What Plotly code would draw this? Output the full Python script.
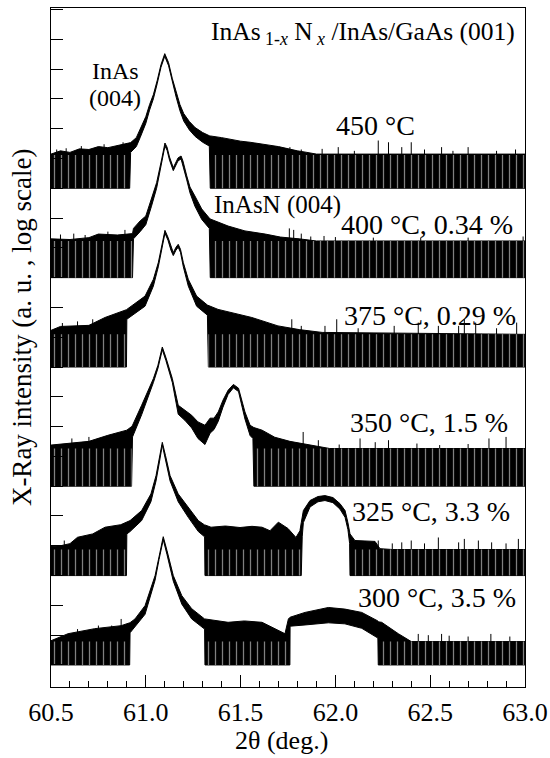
import plotly.graph_objects as go

# ---------------- data (2theta in deg, intensity in counts) ----------------
# per-sample vertical offset factors (log stacking)
offsets = {"450": 1e16, "400": 1e13, "375": 1e10, "350": 1e6, "325": 1e3, "300": 1e0}
floors = {"450": 13, "400": 17, "375": 12.5, "350": 18.4, "325": 7.5, "300": 6.1}

tt_450 = [60.50, 60.55, 60.60, 60.65, 60.70, 60.75, 60.80, 60.85, 60.915, 60.92, 60.95, 60.97, 61.00, 61.02,
          61.04, 61.06, 61.08, 61.10, 61.12, 61.14, 61.16, 61.18, 61.20, 61.23, 61.26, 61.30, 61.335, 61.34,
          61.40, 61.45, 61.50, 61.55, 61.60, 61.65, 61.70, 61.75, 61.80, 61.85, 61.90, 63.00]
hi_450 = [14, 18, 16, 21, 20, 25, 23, 27, 32, 34, 50, 100, 254, 645,
          1390, 4120, 14100, 33000, 16500, 4800, 1620, 645, 320, 173, 109, 74, 58, 57,
          50, 43, 38, 35, 32, 28, 25, 21, 18, 16, 14, 14]
lo_450 = [1, 1, 1, 1, 1, 1, 1, 1, 1, 16, 25, 50, 150, 420,
          1000, 3200, 11500, 27000, 13000, 3700, 1150, 400, 180, 90, 55, 35, 26, 1,
          1, 1, 1, 1, 1, 1, 1, 1, 1, 1, 1, 1]
band_450 = [(60.50, 60.915), (61.34, 63.00)]
spk_450 = [(60.53, 20), (60.58, 22), (60.66, 26), (60.78, 30), (60.88, 35), (61.76, 24), (61.82, 20),
           (61.93, 21), (62.015, 24), (62.10, 18), (62.226, 40), (62.28, 35), (62.35, 24), (62.40, 35),
           (62.47, 20), (62.56, 24), (62.62, 18), (62.70, 24), (62.85, 18), (62.95, 20)]

tt_400 = [60.50, 60.60, 60.70, 60.75, 60.85, 60.93, 60.935, 60.97, 61.00, 61.03, 61.057, 61.084, 61.101,
          61.112, 61.125, 61.145, 61.159, 61.17, 61.186, 61.196, 61.216, 61.233, 61.259, 61.295, 61.335,
          61.34, 61.434, 61.523, 61.63, 61.71, 61.81, 61.90, 63.00]
hi_400 = [20, 19, 22, 29, 27, 30, 45, 80, 117, 437, 1540, 9600, 33000,
          24000, 11200, 4900, 7060, 10400, 12100, 8200, 2600, 1100, 550, 202, 100,
          93, 54, 37, 29, 23, 20, 17, 17]
lo_400 = [1, 1, 1, 1, 1, 1, 20, 35, 60, 250, 1000, 7500, 26000,
          19000, 8800, 3900, 5600, 8300, 9600, 6500, 1900, 700, 250, 90, 45,
          1, 1, 1, 1, 1, 1, 1, 1]
band_400 = [(60.50, 60.93), (61.34, 63.00)]
spk_400 = [(60.55, 28), (60.62, 30), (60.68, 27), (60.80, 35), (60.89, 40), (61.757, 45), (61.78, 40),
           (61.82, 30), (61.87, 24), (61.94, 25), (62.00, 23), (62.20, 22), (62.45, 22), (62.70, 22),
           (62.99, 24)]

tt_375 = [60.50, 60.55, 60.70, 60.785, 60.898, 60.90, 60.996, 61.04, 61.066, 61.085, 61.101, 61.117, 61.133,
          61.145, 61.159, 61.171, 61.183, 61.198, 61.224, 61.268, 61.325, 61.33, 61.381, 61.559, 61.697,
          61.81, 61.93, 63.00]
hi_375 = [17, 23, 25, 46, 84, 86, 240, 880, 3200, 13100, 38600, 22700, 10400,
          6900, 10400, 13100, 8900, 3200, 880, 240, 120, 117, 86, 46, 24,
          18, 14.5, 12.5]
lo_375 = [1, 1, 1, 1, 1, 40, 110, 520, 2300, 10500, 31000, 18000, 8200,
          5500, 8300, 10500, 7000, 2300, 520, 110, 55, 1, 1, 1, 1,
          1, 1, 1]
band_375 = [(60.50, 60.898), (61.33, 63.00)]
spk_375 = [(60.56, 30), (60.64, 34), (60.72, 40), (61.77, 40), (61.82, 24), (61.945, 24), (62.007, 40),
           (62.12, 20), (62.31, 24), (62.437, 31), (62.543, 24), (62.65, 24), (62.68, 40), (62.74, 31),
           (62.85, 20), (62.956, 31)]

tt_350 = [60.50, 60.60, 60.70, 60.80, 60.90, 60.925, 60.93, 60.978, 61.04, 61.064, 61.087, 61.106, 61.14,
          61.171, 61.207, 61.242, 61.275, 61.312, 61.339, 61.36, 61.382, 61.407, 61.434, 61.462, 61.489,
          61.523, 61.55, 61.565, 61.57, 61.613, 61.68, 61.76, 61.866, 61.97, 63.00]
hi_350 = [24, 28, 32, 51, 76, 100, 111, 520, 4100, 11500, 47000, 21000, 4100,
          520, 356, 240, 144, 111, 192, 192, 310, 770, 1660, 2600, 1950,
          310, 111, 95, 93, 76, 44, 32, 24, 18.4, 18.4]
lo_350 = [1, 1, 1, 1, 1, 1, 45, 250, 3000, 9000, 38000, 16500, 3000,
          260, 160, 90, 40, 25, 60, 80, 150, 450, 1200, 2000, 1500,
          180, 50, 40, 1, 1, 1, 1, 1, 1, 1]
band_350 = [(60.50, 60.925), (61.567, 63.00)]
spk_350 = [(60.61, 40), (60.70, 45), (60.75, 40), (61.83, 66), (61.91, 35), (62.02, 25), (62.13, 40),
           (62.21, 30), (62.28, 35), (62.43, 27), (62.55, 24), (62.70, 26), (62.81, 40), (62.90, 45)]

tt_325 = [60.50, 60.55, 60.60, 60.64, 60.72, 60.785, 60.868, 60.898, 60.90, 60.917, 60.978, 61.027, 61.054,
          61.072, 61.087, 61.104, 61.128, 61.171, 61.224, 61.277, 61.31, 61.312, 61.344, 61.42, 61.497,
          61.56, 61.613, 61.655, 61.699, 61.75, 61.792, 61.813, 61.82, 61.825, 61.831, 61.866, 61.908,
          61.945, 61.987, 62.024, 62.051, 62.066, 62.075, 62.077, 62.103, 62.209, 62.235, 62.30, 63.00]
hi_325 = [9.4, 10, 11.8, 19.3, 25, 42, 51, 60, 60, 70, 152, 550, 2270,
          8500, 29700, 10600, 2270, 550, 195, 70, 50, 50, 42, 46, 41,
          45, 42, 32, 62, 38, 19, 32, 60, 100, 152, 330, 450,
          483, 415, 260, 152, 60, 30, 25, 15, 14, 8, 7.5, 7.5]
lo_325 = [1, 1, 1, 1, 1, 1, 1, 1, 25, 30, 70, 300, 1500,
          6500, 24000, 8000, 1500, 300, 90, 30, 20, 1, 1, 1, 1,
          1, 1, 1, 1, 1, 1, 1, 1, 20, 60, 200, 300,
          330, 280, 170, 90, 35, 12, 1, 1, 1, 1, 1, 1]
band_325 = [(60.50, 60.898), (61.312, 61.82), (62.077, 63.00)]
spk_325 = [(60.57, 15), (60.61, 13), (60.70, 22), (62.226, 15), (62.30, 12), (62.35, 13), (62.40, 15),
           (62.47, 12), (62.543, 19), (62.65, 13), (62.68, 17), (62.754, 15), (62.824, 13), (62.90, 12),
           (62.965, 17)]

tt_300 = [60.50, 60.59, 60.73, 60.87, 60.915, 60.917, 60.943, 60.996, 61.049, 61.07, 61.092, 61.112, 61.145,
          61.19, 61.242, 61.31, 61.312, 61.434, 61.52, 61.613, 61.699, 61.734, 61.752, 61.76, 61.761,
          61.84, 61.963, 62.05, 62.139, 62.224, 62.226, 62.244, 62.332, 62.40, 63.00]
hi_300 = [6.5, 11.2, 16.5, 20.8, 26, 26.3, 35, 98, 1000, 4660, 20200, 6840, 1000,
          211, 77.6, 35, 35, 27, 30, 27, 14.1, 11.2, 35, 40, 40,
          58, 85, 75, 58, 30, 28, 27, 11.2, 6.1, 6.1]
lo_300 = [1, 1, 1, 1, 1, 12, 18, 50, 700, 3500, 16000, 5000, 650,
          110, 35, 16, 1, 1, 1, 1, 1, 1, 1, 1, 20,
          22, 26, 24, 17, 8, 1, 1, 1, 1, 1]
band_300 = [(60.50, 60.915), (61.312, 61.761), (62.226, 63.00)]
spk_300 = [(60.64, 16), (60.75, 21), (60.82, 21), (60.87, 35), (62.437, 11), (62.49, 10), (62.56, 11),
           (62.60, 9.6), (62.70, 9), (62.82, 11), (62.92, 9)]

samples = {
    "450": (tt_450, hi_450, lo_450, band_450, spk_450),
    "400": (tt_400, hi_400, lo_400, band_400, spk_400),
    "375": (tt_375, hi_375, lo_375, band_375, spk_375),
    "350": (tt_350, hi_350, lo_350, band_350, spk_350),
    "325": (tt_325, hi_325, lo_325, band_325, spk_325),
    "300": (tt_300, hi_300, lo_300, band_300, spk_300),
}

xticks = [60.5, 61.0, 61.5, 62.0, 62.5, 63.0]
xticktext = ["60.5", "61.0", "61.5", "62.0", "62.5", "63.0"]

FONT = "Liberation Serif, Times New Roman, serif"

fig = go.Figure()
for key, (tt, hi, lo, bands, spk) in samples.items():
    off = offsets[key]
    px = list(tt) + list(tt)[::-1]
    py = [v * off for v in hi] + [v * off for v in lo][::-1]
    fig.add_trace(go.Scatter(x=px, y=py, fill="toself", fillcolor="black", mode="lines",
                             line=dict(color="black", width=1), hoverinfo="skip", showlegend=False))
    sx, sy = [], []
    for t, c in spk:
        sx += [t, t, None]
        sy += [floors[key] * off, c * off, None]
    fig.add_trace(go.Scatter(x=sx, y=sy, mode="lines", line=dict(color="black", width=1),
                             hoverinfo="skip", showlegend=False))
    for a, b in bands:
        fig.add_trace(go.Scatter(x=[a, a, b, b, a],
                                 y=[1 * off, floors[key] * off, floors[key] * off, 1 * off, 1 * off],
                                 fill="toself", mode="none", fillcolor="rgba(0,0,0,0)",
                                 fillpattern=dict(shape="|", fgcolor="white", size=7, solidity=0.18),
                                 hoverinfo="skip", showlegend=False))

labels = [
    ("450 °C", 62.21, 18.12, "center"),
    ("400 °C, 0.34 %", 62.947, 14.80, "right"),
    ("375 °C, 0.29 %", 62.965, 11.74, "right"),
    ("350 °C, 1.5 %", 62.921, 8.15, "right"),
    ("325 °C, 3.3 %", 62.93, 5.14, "right"),
    ("300 °C, 3.5 %", 62.965, 2.25, "right"),
]
ann = []
for txt, x, y, anc in labels:
    ann.append(dict(text=txt, x=x, y=y, xref="x", yref="y", xanchor=anc, yanchor="middle",
                    showarrow=False, font=dict(family=FONT, size=28, color="black")))
ann.append(dict(text="InAsN (004)", x=61.348, y=15.44, xref="x", yref="y", xanchor="left", yanchor="middle",
                showarrow=False, font=dict(family=FONT, size=25, color="black")))
ann.append(dict(text="InAs", x=60.838, y=19.92, xref="x", yref="y", xanchor="center",
                yanchor="middle", showarrow=False, font=dict(family=FONT, size=24, color="black")))
ann.append(dict(text="(004)", x=60.838, y=19.02, xref="x", yref="y", xanchor="center",
                yanchor="middle", showarrow=False, font=dict(family=FONT, size=24, color="black")))
ann.append(dict(text="InAs<sub> 1-<i>x</i></sub> N<sub> <i>x</i></sub> /InAs/GaAs (001)", x=62.956, y=21.21,
                xref="x", yref="y", xanchor="right", yanchor="middle", showarrow=False,
                font=dict(family=FONT, size=25.5, color="black")))
# axis titles
ann.append(dict(text="X-Ray intensity (a. u. , log scale)", x=-0.0612, y=0.530, xref="paper", yref="paper",
                xanchor="center", yanchor="middle", textangle=-90, showarrow=False,
                font=dict(family=FONT, size=27, color="black")))
ann.append(dict(text="2θ (deg.)", x=0.487, y=-0.1031, xref="paper", yref="paper",
                xanchor="center", yanchor="bottom", showarrow=False,
                font=dict(family=FONT, size=26, color="black")))

fig.update_layout(
    width=550, height=758,
    margin=dict(l=51, r=25, t=8, b=71, autoexpand=False),
    paper_bgcolor="white", plot_bgcolor="white",
    font=dict(family=FONT, size=26, color="black"),
    annotations=ann,
    xaxis=dict(range=[60.5, 63.0], tickvals=xticks, ticktext=xticktext, ticks="inside", ticklen=12,
               tickwidth=1, tickcolor="black", showline=True, linecolor="black", linewidth=1, mirror=True,
               showgrid=False, zeroline=False, tickfont=dict(family=FONT, size=26), automargin=False,
               ticklabelstandoff=2,
               minor=dict(dtick=0.1, tick0=60.5, ticks="inside", ticklen=6, tickcolor="black", showgrid=False)),
    yaxis=dict(type="log", range=[-0.74, 22.05], tickvals=[10.0 ** k for k in range(23)], ticks="inside",
               ticklen=12, tickwidth=1, tickcolor="black", showticklabels=False, showline=True,
               linecolor="black", linewidth=1, mirror=True, showgrid=False, zeroline=False, automargin=False),
)

fig.write_html("out.html", config={"displayModeBar": False},
               post_script="document.body.style.margin='0px';")
